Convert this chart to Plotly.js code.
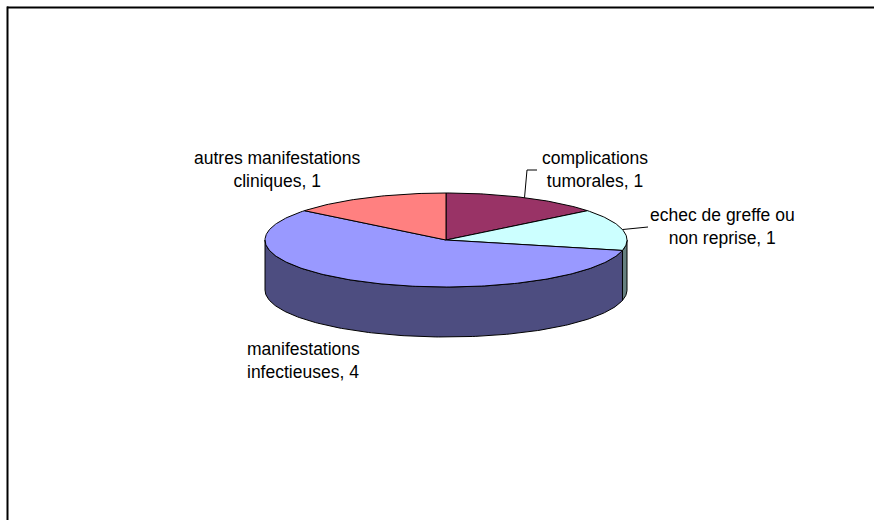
<!DOCTYPE html>
<html>
<head>
<meta charset="utf-8">
<script src="https://cdn.plot.ly/plotly-3.0.1.min.js"></script>
<style>
  html, body { margin: 0; padding: 0; background: #ffffff; overflow: hidden; }
  #chart { width: 874px; height: 520px; }
</style>
</head>
<body>
<div id="chart"></div>
<script>
// ---- data ----
const categories = ['complications\ntumorales', 'echec de greffe ou\nnon reprise', 'manifestations\ninfectieuses', 'autres manifestations\ncliniques'];
const values = [1, 1, 4, 1];

// ---- styles ----
const topColors  = ['#993366', '#CCFFFF', '#9999FF', '#FF8080'];
const sideColors = ['#4D1A33', '#668080', '#4D4D80', '#804040'];

// ---- geometry (pixels) ----
const GEO = { cx: 446, cy: 240, rx: 181, ry: 47, depth: 50 };
const labelPos = [
  { x: 595, y: 169, anchor: 'center' },
  { x: 722, y: 226, anchor: 'center' },
  { x: 245, y: 360, anchor: 'left' },
  { x: 277, y: 169, anchor: 'center' }
];
// leader line end points
const leaderEnds = [
  [[527, 170], [537, 170]],
  [[648, 227]],
  null,
  null
];

function pt(theta, dy) {
  const r = theta * Math.PI / 180;
  return [GEO.cx + GEO.rx * Math.sin(r), GEO.cy - GEO.ry * Math.cos(r) + (dy || 0)];
}
function arc(a, b, dy) {
  const pts = [];
  const n = Math.max(2, Math.ceil(Math.abs(b - a)));
  for (let i = 0; i <= n; i++) pts.push(pt(a + (b - a) * i / n, dy));
  return pts;
}

const total = values.reduce((s, v) => s + v, 0);
const angles = [];
let acc = 0;
values.forEach(v => { const a0 = acc / total * 360; acc += v; angles.push([a0, acc / total * 360]); });

const traces = [];
// side faces (front half: 90..270 deg)
angles.forEach(([a, b], i) => {
  const s = Math.max(a, 90), e = Math.min(b, 270);
  if (e <= s) return;
  const top = arc(s, e, 0);
  const bot = arc(e, s, GEO.depth);
  const pts = top.concat(bot);
  pts.push(top[0]);
  traces.push({
    type: 'scatter', mode: 'lines', fill: 'toself',
    x: pts.map(p => p[0]), y: pts.map(p => p[1]),
    fillcolor: sideColors[i], line: { color: '#000000', width: 1 },
    hoverinfo: 'skip'
  });
});
// top faces
angles.forEach(([a, b], i) => {
  const pts = [[GEO.cx, GEO.cy]].concat(arc(a, b, 0));
  pts.push([GEO.cx, GEO.cy]);
  traces.push({
    type: 'scatter', mode: 'lines', fill: 'toself',
    x: pts.map(p => p[0]), y: pts.map(p => p[1]),
    fillcolor: topColors[i], line: { color: '#000000', width: 1 },
    hoverinfo: 'skip'
  });
});
// leader lines
angles.forEach(([a, b], i) => {
  if (!leaderEnds[i]) return;
  const pts = [pt((a + b) / 2, 0)].concat(leaderEnds[i]);
  traces.push({
    type: 'scatter', mode: 'lines',
    x: pts.map(p => p[0]), y: pts.map(p => p[1]),
    line: { color: '#000000', width: 1 }, hoverinfo: 'skip'
  });
});

const annotations = categories.map((c, i) => ({
  x: labelPos[i].x, y: labelPos[i].y, xref: 'x', yref: 'y',
  xanchor: labelPos[i].anchor, yanchor: 'middle', align: labelPos[i].anchor === 'left' ? 'left' : 'center',
  showarrow: false,
  text: c.replace('\n', '<br>') + ', ' + values[i],
  font: { family: 'Liberation Sans, Arial, sans-serif', size: 17.5, color: '#000000' }
}));

const layout = {
  width: 874, height: 520,
  margin: { l: 0, r: 0, t: 0, b: 0 },
  paper_bgcolor: '#ffffff', plot_bgcolor: '#ffffff',
  showlegend: false, hovermode: false,
  xaxis: { range: [0, 874], visible: false, fixedrange: true },
  yaxis: { range: [520, 0], visible: false, fixedrange: true },
  annotations: annotations,
  shapes: [
    { type: 'line', xref: 'paper', yref: 'paper', x0: 7 / 874, y0: 1 - 7.5 / 520, x1: 1, y1: 1 - 7.5 / 520,
      line: { color: '#000000', width: 2 } },
    { type: 'line', xref: 'paper', yref: 'paper', x0: 7.5 / 874, y0: 1 - 6.5 / 520, x1: 7.5 / 874, y1: 0,
      line: { color: '#000000', width: 2 } }
  ]
};

Plotly.newPlot('chart', traces, layout, { displayModeBar: false, staticPlot: true });
</script>
</body>
</html>
